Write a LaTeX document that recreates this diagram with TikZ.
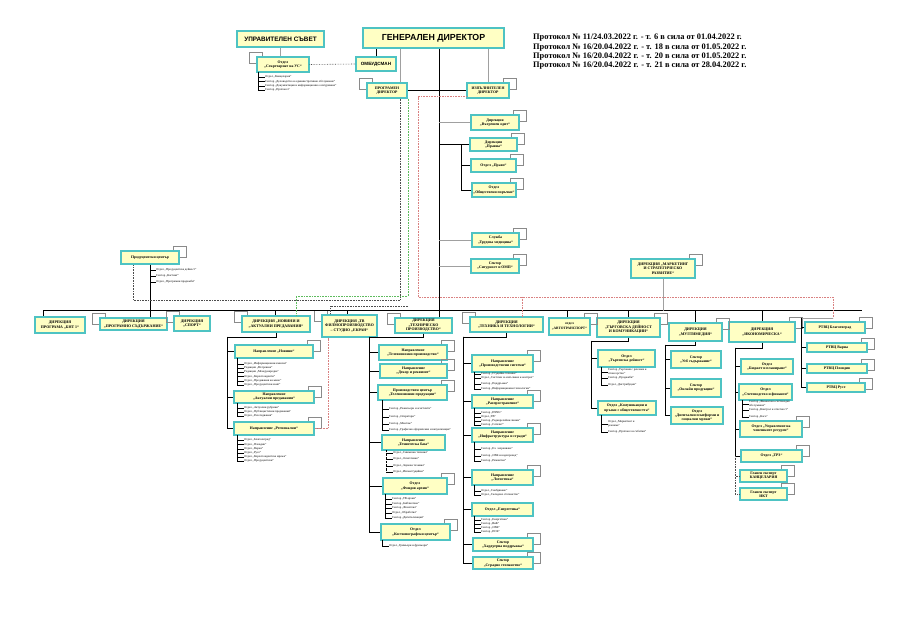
\documentclass[tikz,border=0pt]{standalone}
\usepackage{fontspec}
\setmainfont{Liberation Serif}
\newfontfamily\arialf{Liberation Sans}
\definecolor{bxfill}{HTML}{FFFFC4}
\definecolor{bxline}{HTML}{4EC3C3}
\definecolor{conn}{HTML}{A0A0A0}
\definecolor{tabc}{HTML}{8A8A8A}
\definecolor{reddot}{HTML}{D98080}
\definecolor{grndot}{HTML}{5DBB5D}
\tikzset{
 bx/.style={draw=bxline, fill=bxfill, line width=1.2pt, inner sep=0.3pt, align=center, font=\bfseries\fontsize{3.8}{4.3}\selectfont},
 dirbx/.style={font=\bfseries\fontsize{3.9}{4.5}\selectfont},
 lst/.style={anchor=west, inner sep=0pt, align=left, font=\fontsize{3}{3.4}\selectfont},
 gl/.style={draw=conn, line width=0.5pt},
 bl/.style={draw=black, line width=0.75pt},
 tk/.style={draw=black, line width=0.35pt},
 dt/.style={draw=black!70, line width=0.6pt, densely dotted},
 tabl/.style={draw=tabc, line width=0.45pt},
}
\newcommand\Bx[7][]{\node[bx,minimum width={(#5-#3)*1pt},minimum height={(#6-#4)*1pt},#1] (#2) at ({(#3+#5)/2},{(#4+#6)/2}) {#7};}
\newcommand\TR[1]{\draw[tabl] ([xshift=-6pt]#1.north east) -- ++(0,-4) -- ++(13,0) -- ++(0,11) -- ([yshift=-7pt]#1.north east);}
\newcommand\TL[1]{\draw[tabl] ([xshift=6pt]#1.north west) -- ++(0,-4) -- ++(-13,0) -- ++(0,11) -- ([yshift=-7pt]#1.north west);}
\newcounter{itc}
\newcommand\It[4][6]{\stepcounter{itc}\node[lst] (it\theitc) at ({#2+#1+1},{#3}) {#4};\draw[tk] (#2,#3) -- (it\theitc.west);}
\begin{document}
\begin{tikzpicture}[x=1pt,y=-1pt]
\useasboundingbox (0,0) rectangle (900,636);
\fill[white] (0,0) rectangle (900,636);

% ---------- protocol text
\node[anchor=north west, inner sep=0, align=left, font=\bfseries\fontsize{8.4}{9.3}\selectfont] (prot) at (533,34)
 {Протокол № 11/24.03.2022 г. - т. 6 в сила от 01.04.2022 г.\\
  Протокол № 16/20.04.2022 г. - т. 18 в сила от 01.05.2022 г.\\
  Протокол № 16/20.04.2022 г. - т. 20 в сила от 01.05.2022 г.\\
  Протокол № 16/20.04.2022 г. - т. 21 в сила от 28.04.2022 г.};

% ---------- top boxes
\Bx[font=\arialf\bfseries\fontsize{6.4}{7}\selectfont]{us}{237}{31}{324}{47}{УПРАВИТЕЛЕН СЪВЕТ}
\Bx[font=\arialf\bfseries\fontsize{8.8}{9}\selectfont]{gd}{363}{28}{504}{48}{ГЕНЕРАЛЕН ДИРЕКТОР}
\Bx{sec}{257}{57}{309}{72}{Отдел\\„Секретариат на УС“}
\Bx[font=\arialf\bfseries\fontsize{4.6}{5}\selectfont]{omb}{356}{57}{396}{71}{ОМБУДСМАН}
\Bx{prog}{367}{83}{407}{98}{ПРОГРАМЕН\\ДИРЕКТОР}
\Bx{izp}{467}{83}{509}{98}{ИЗПЪЛНИТЕЛЕН\\ДИРЕКТОР}

\draw[tk] (258,72) -- (258,90);
\It{258}{77}{Отдел „Канцелария“}
\It{258}{81.5}{Сектор „Деловодство и административно обслужване“}
\It{258}{86}{Сектор „Документация и информационно осигуряване“}
\It{258}{90}{Сектор „Протокол“}

% ---------- middle column
\Bx{vo}{471}{115}{519}{130}{Дирекция\\„Вътрешен одит“}
\Bx{pr}{470}{138}{517}{151}{Дирекция\\„Правна“}
\Bx{pravo}{471}{159}{516}{172}{Отдел „Право“}
\Bx{op}{472}{183}{516}{197}{Отдел\\„Обществени поръчки“}
\Bx{tm}{472}{233}{519}{247}{Служба\\„Трудова медицина“}
\Bx{sig}{471}{259}{519}{273}{Сектор\\„Сигурност и ОМП“}

% ---------- producer centre and marketing
\Bx{pc}{121}{251}{179}{264}{Продуцентски център}
\Bx[dirbx]{mkt}{631}{259}{695}{278}{ДИРЕКЦИЯ „МАРКЕТИНГ\\И СТРАТЕГИЧЕСКО\\РАЗВИТИЕ“}

% ---------- directorates
\Bx[dirbx]{b1}{35}{317}{85}{333}{ДИРЕКЦИЯ\\ПРОГРАМА „БНТ 1“}
\Bx[dirbx]{b2}{100}{318}{167}{330}{ДИРЕКЦИЯ\\„ПРОГРАМНО СЪДЪРЖАНИЕ“}
\Bx[dirbx]{b3}{174}{316}{210}{331}{ДИРЕКЦИЯ\\„СПОРТ“}
\Bx[dirbx]{b4}{242}{316}{310}{332}{ДИРЕКЦИЯ „НОВИНИ И\\„АКТУАЛНИ ПРЕДАВАНИЯ“}
\Bx[dirbx]{b5}{322}{315}{377}{337}{ДИРЕКЦИЯ „ТВ\\ФИЛМОПРОИЗВОДСТВО\\– СТУДИО „ЕКРАН“}
\Bx[dirbx]{b6}{395}{318}{452}{333}{ДИРЕКЦИЯ\\„ТЕХНИЧЕСКО\\ПРОИЗВОДСТВО“}
\Bx[dirbx]{b7}{470}{317}{543}{332}{ДИРЕКЦИЯ\\„ТЕХНИКА И ТЕХНОЛОГИИ“}
\Bx[font=\bfseries\fontsize{3.5}{4.2}\selectfont]{b8}{549}{318}{590}{335}{отдел\\„АВТОТРАНСПОРТ“}
\Bx[dirbx]{b9}{597}{318}{660}{337}{ДИРЕКЦИЯ\\„ТЪРГОВСКА ДЕЙНОСТ\\И КОМУНИКАЦИИ“}
\Bx[dirbx]{b10}{669}{323}{722}{341}{ДИРЕКЦИЯ\\„МУЛТИМЕДИЯ“}
\Bx[dirbx]{b11}{729}{322}{795}{342}{ДИРЕКЦИЯ\\„ИКОНОМИЧЕСКА“}
\Bx{r1}{805}{322}{865}{333}{РТВЦ Благоевград}
\Bx{r2}{807}{343}{867}{352}{РТВЦ Варна}
\Bx{r3}{807}{364}{867}{373}{РТВЦ Пловдив}
\Bx{r4}{807}{383}{865}{392}{РТВЦ Русе}

% ---------- news column
\Bx{nnov}{235}{345}{313}{358}{Направление „Новини“}
\Bx{nakt}{234}{391}{314}{403}{Направление\\„Актуални предавания“}
\Bx{nreg}{234}{422}{314}{435}{Направление „Регионални“}
\draw[tk] (237,358) -- (237,385);
\It{237}{364}{Отдел „Информационни емисии“}
\It{237}{368}{Редакция „Вътрешна“}
\It{237}{372}{Редакция „Международна“}
\It{237}{376.5}{Отдел „Кореспонденти“}
\It{237}{381}{Отдел „Предавания на живо“}
\It{237}{385}{Отдел „Продуцентски екип“}
\draw[tk] (237,403) -- (237,416);
\It{237}{408}{Отдел „Актуални рубрики“}
\It{237}{412}{Отдел „Публицистични предавания“}
\It{237}{416}{Отдел „Разследвания“}
\draw[tk] (237,435) -- (237,461);
\It{237}{440}{Отдел „Благоевград“}
\It{237}{444.5}{Отдел „Пловдив“}
\It{237}{449}{Отдел „Варна“}
\It{237}{453}{Отдел „Русе“}
\It{237}{457}{Отдел „Кореспондентска мрежа“}
\It{237}{461}{Отдел „Продуцентски“}

% ---------- technical production column
\Bx{tA}{379}{345}{447}{360}{Направление\\„Телевизионно производство“}
\Bx{tB}{380}{364}{447}{378}{Направление\\„Декор и реквизит“}
\Bx{tC}{378}{385}{447}{400}{Производствен център\\„Телевизионни продукции“}
\Bx{tD}{382}{435}{445}{450}{Направление\\„Техническа база“}
\Bx{tE}{383}{478}{447}{494}{Отдел\\„Фондов архив“}
\Bx{tF}{381}{524}{450}{540}{Отдел\\„Костюмографски център“}
\draw[tk] (382,400) -- (382,430);
\It{382}{409}{Сектор „Режисьори и асистенти“}
\It{382}{417}{Сектор „Оператори“}
\It{382}{424}{Сектор „Монтаж“}
\It{382}{430}{Сектор „Графично оформление и визуализация“}
\draw[tk,densely dotted] (386,450) -- (386,472);
\It{386}{453}{Отдел „Снимачна техника“}
\It{386}{459}{Отдел „Осветление“}
\It{386}{466}{Отдел „Звукова техника“}
\It{386}{472}{Отдел „Извънстудийни“}
\draw[tk] (385,494) -- (385,518);
\It{385}{499}{Сектор „ТВ архив“}
\It{385}{504}{Сектор „Библиотека“}
\It{385}{508}{Сектор „Фонотека“}
\It{385}{513}{Отдел „Обработка“}
\It{385}{518}{Сектор „Дигитализация“}
\draw[tk] (382,540) -- (382,546);
\It{382}{546}{Отдел „Гримьори и фризьори“}

% ---------- technique & technologies column
\Bx{gG}{472}{355}{533}{372}{Направление\\„Производствени системи“}
\Bx{gH}{472}{395}{533}{408}{Направление\\„Разпространение“}
\Bx{gI}{472}{428}{533}{442}{Направление\\„Инфраструктура и сгради“}
\Bx{gJ}{472}{470}{533}{485}{Направление\\„Логистика“}
\Bx{gK}{472}{503}{533}{516}{Отдел „Енергетика“}
\Bx{gL}{473}{538}{533}{551}{Сектор\\„Хардуерна поддръжка“}
\Bx{gM}{473}{557}{533}{569}{Сектор\\„Сградно стопанство“}
\draw[tk] (474,372) -- (474,389);
\It{474}{374}{Сектор „Студийна техника“}
\It{474}{378}{Отдел „Системи за излъчване и контрол“}
\It{474}{384}{Сектор „Поддръжка“}
\It{474}{389}{Сектор „Информационни технологии“}
\draw[tk] (474,408) -- (474,425);
\It{474}{413}{Сектор „DSNG“}
\It{474}{417}{Отдел „ТВ“}
\It{474}{421}{Сектор „Радиорелейни линии“}
\It{474}{425}{Сектор „Сателит“}
\draw[tk] (474,442) -- (474,461);
\It{474}{449}{Сектор „Ел. захранване“}
\It{474}{456}{Сектор „ОВК и водопровод“}
\It{474}{461}{Сектор „Ремонтни“}
\draw[tk] (474,485) -- (474,495);
\It{474}{491}{Отдел „Снабдяване“}
\It{474}{495}{Отдел „Складово стопанство“}
\draw[tk] (474,516) -- (474,532);
\It{474}{520}{Сектор „Енергетика“}
\It{474}{524}{Сектор „ВиК“}
\It{474}{528}{Сектор „ОВК“}
\It{474}{532}{Сектор „ПСК“}

% ---------- commerce column
\Bx{cN}{598}{350}{655}{367}{Отдел\\„Търговска дейност“}
\Bx{cO}{598}{401}{656}{415}{Отдел „Комуникации и\\връзки с обществеността“}
\draw[tk] (601,367) -- (601,385);
\It{601}{372}{Сектор „Търговия с реклама и\\спонсорство“}
\It{601}{378}{Сектор „Продажби“}
\It{601}{385}{Отдел „Дистрибуция“}
\draw[tk] (601,415) -- (601,432);
\It{601}{424}{Отдел „Маркетинг и\\реклама“}
\It{601}{432}{Сектор „Протокол и събития“}

% ---------- multimedia column
\Bx{mP}{671}{351}{721}{368}{Сектор\\„Уеб съдържание“}
\Bx{mQ}{671}{379}{721}{397}{Сектор\\„Онлайн продукции“}
\Bx{mR}{671}{407}{723}{424}{Отдел\\„Дигитални платформи и\\социални мрежи“}

% ---------- economics column
\Bx{eS}{741}{359}{793}{374}{Отдел\\„Бюджет и планиране“}
\Bx{eT}{739}{384}{792}{400}{Отдел\\„Счетоводство и финанси“}
\Bx{eU}{740}{421}{802}{437}{Отдел „Управление на\\човешките ресурси“}
\Bx{eV}{741}{450}{802}{462}{Отдел „ТРЗ“}
\Bx{eW}{740}{470}{787}{482}{Главен експерт\\КАНЦЕЛАРИЯ}
\Bx{eX}{740}{488}{787}{500}{Главен експерт\\ИКТ}
\draw[tk] (742,400) -- (742,417);
\It{742}{404}{Сектор „Финансово-счетоводно\\обслужване“}
\It{742}{410}{Сектор „Контрол и отчетност“}
\It{742}{417}{Сектор „Каса“}

% ---------- producer centre items
\It[5]{150}{270}{Отдел „Продуцентска дейност“}
\It[5]{150}{276}{Сектор „Кастинг“}
\It[5]{150}{282}{Отдел „Програмни продажби“}

% ---------- tabs
\foreach \n in {izp,vo,pr,pravo,op,tm,sig,pc,mkt,b8,b9,b10,b11,r1,r2,r3,r4,nnov,nakt,nreg,tA,tB,tC,tE,tF,gG,gH,gI,gJ,gL,gM,eU,eV,eW,eX}{\TR{\n}}
\foreach \n in {sec,prog,b2,b3,b4,b5,b6,b7}{\TL{\n}}

% ---------- top connectors
\draw[gl] (us.south) -- (us.south |- sec.north);
\draw[dt] (sec.east) -- (omb.west);
\draw[bl] (omb.north) -- (omb.north |- gd.south);
\coordinate (mvb) at (439,311);
\draw[bl,line width=1pt] (gd.south -| mvb) -- (mvb);
\coordinate (pvx) at (400,0);
\draw[gl] (gd.south -| pvx) -- (prog.north -| pvx);
\draw[gl] (gd.south -| izp.north) -- (izp.north);
\draw[bl] (prog.east) -- (izp.west);

% middle column connectors
\draw[gl] (vo.west -| mvb) -- (vo.west);
\draw[bl] (pr.west -| mvb) -- (pr.west);
\coordinate (prk) at (461,0);
\draw[bl] (pr.west -| prk) |- (pravo.west);
\draw[bl] (pr.west -| prk) |- (op.west);
\draw[gl] (tm.west -| mvb) -- (tm.west);
\draw[gl] (sig.west -| mvb) -- (sig.west);

% bus
\coordinate (busL) at (43,311);
\coordinate (busR) at (862,311);
\draw[bl,line width=1pt] (busL) -- (busR);
\draw[bl] (busL) -- (busL |- b1.north);
\foreach \b/\x in {b2/150,b4/275,b5/347,b6/439,b8/567,b9/628,b10/695,b11/762}
  \draw[bl] (\x,311) -- (\b.north -| \x,0);
\draw[bl] (pc.south) -- (pc.south |- busL);
\draw[gl] (mkt.south) -- (mkt.south |- busL);

% dotted supervision lines
\coordinate (d1a) at (400,300);
\coordinate (d1b) at (133,300);
\draw[dt] (prog.south -| d1a) -- (d1a) -- (d1b) -- (pc.south -| d1b);
\coordinate (d2a) at (408,296);
\coordinate (d2b) at (296,296);
\draw[dt,draw=grndot] (prog.south -| d2a) -- (d2a) -- (d2b) -- (b4.north -| d2b);
\coordinate (d3a) at (408,306);
\coordinate (d3b) at (330,306);
\draw[dt] (d3a) -- (d3b) -- (b5.north -| d3b);
\coordinate (e1) at (418,297);
\coordinate (e2) at (833,297);
\coordinate (e3) at (833,318);
\coordinate (rk) at (801,318);
\draw[dt,draw=reddot] ([yshift=2pt]izp.south west) -| (e1) -- (e2) -- (e3);
\draw[dt,draw=reddot] (522,297) -- (b7.north -| 522,0);
\draw[gl] (e3) -- (rk);
\foreach \r in {r1,r2,r3,r4} \draw[bl] (rk) |- (\r.west);

% news column connectors
\coordinate (n4) at (227,337);
\draw[bl] (b4.south) |- (n4);
\foreach \n in {nnov,nakt,nreg} \draw[bl] (n4) |- (\n.west);
\draw[dt,draw=reddot] (nreg.east) -| (b5.south -| 328,0);

% technical production connectors
\coordinate (t6) at (369,337);
\draw[bl] (b6.south) |- (t6);
\foreach \n in {tA,tB,tC,tD,tE,tF} \draw[bl] (t6) |- (\n.west);

% technique column connectors
\coordinate (t7) at (463,337);
\draw[bl] (b7.south) |- (t7);
\foreach \n in {gG,gH,gI,gJ,gK,gL,gM} \draw[bl] (t7) |- (\n.west);

% commerce
\coordinate (t9) at (591,341);
\draw[bl] (b9.south) |- (t9);
\foreach \n in {cN,cO} \draw[bl] (t9) |- (\n.west);

% multimedia
\coordinate (t10) at (665,345);
\draw[bl] (b10.south) |- (t10);
\foreach \n in {mP,mQ,mR} \draw[bl] (t10) |- (\n.west);

% economics
\coordinate (t11) at (735,348);
\draw[bl] (b11.south) |- (t11);
\foreach \n in {eS,eT,eU,eV} \draw[bl] (t11) |- (\n.west);
\draw[dt] (eV.west -| t11) |- (eW.west);
\draw[dt] (eV.west -| t11) |- (eX.west);
\end{tikzpicture}
\end{document}
